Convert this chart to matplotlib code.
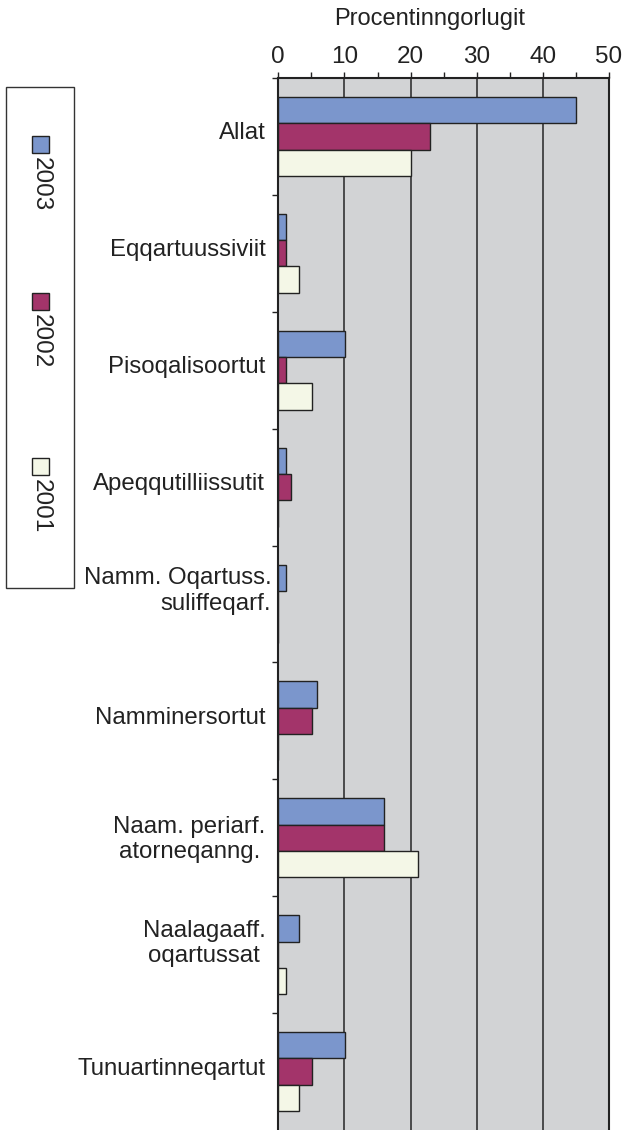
import matplotlib
matplotlib.use('Agg')
import matplotlib.pyplot as plt
from matplotlib.patches import Rectangle
from matplotlib.transforms import blended_transform_factory, offset_copy

plt.rcParams['font.family'] = ['Liberation Sans', 'DejaVu Sans']

# ---------------- data ----------------
categories = [
    "Allat",
    "Eqqartuussiviit",
    "Pisoqalisoortut",
    "Apeqqutilliissutit",
    "Namm. Oqartuss.\nsuliffeqarf.",
    "Namminersortut",
    "Naam. periarf.\natorneqanng.",
    "Naalagaaff.\noqartussat",
    "Tunuartinneqartut",
]
series_names = ["2003", "2002", "2001"]
v2003 = [45.0, 1.2, 10.1, 1.2, 1.2, 5.9, 16.0, 3.2, 10.1]
v2002 = [23.0, 1.1, 1.1, 1.9, 0.0, 5.1, 16.0, 0.0, 5.1]
v2001 = [20.0, 3.2, 5.1, 0.0, 0.0, 0.0, 21.1, 1.2, 3.2]
series_colors = ["#7B96CC", "#A3346A", "#F4F7E7"]
x_ticks = [0, 10, 20, 30, 40, 50]
x_minor = [5, 15, 25, 35, 45]
x_label = "Procentinngorlugit"

# ---------------- figure ----------------
W, H = 622, 1130
fig = plt.figure(figsize=(W / 100, H / 100), dpi=100)
ax = fig.add_axes([278.3 / W, 0.0, (609 - 278.3) / W, (H - 78) / H])
ax.set_facecolor("#D2D3D5")

n = len(categories)
bh = 0.225
for k, (vals, col) in enumerate(zip([v2003, v2002, v2001], series_colors)):
    ys = [i + (k - 1) * bh for i in range(n)]
    ax.barh(ys, vals, height=bh, color=col, edgecolor="#222222",
            linewidth=1.0, zorder=3)

ax.set_xlim(0, 50)
ax.set_ylim(n - 0.5, -0.5)

ax.xaxis.tick_top()
ax.xaxis.set_label_position("top")
ax.set_xticks(x_ticks)
ax.set_xticks(x_minor, minor=True)
ax.tick_params(axis="x", which="both", direction="out", length=4.5, width=1,
               color="#222222", labelsize=17.5, labelcolor="#222222", pad=2.5)
ax.set_xlabel(x_label, fontsize=17, color="#222222")
ax.xaxis.set_label_coords(0.458, 1.0456)
ax.xaxis.label.set_va("bottom")
ax.grid(axis="x", which="major", color="#333333", linewidth=1.2, zorder=1)
ax.set_axisbelow(True)

ax.set_yticks([i - 0.5 for i in range(n)])
ax.set_yticklabels([])
ax.tick_params(axis="y", direction="out", length=4.5, width=1, color="#222222")

for s in ["top", "left", "right"]:
    ax.spines[s].set_color("#222222")
    ax.spines[s].set_linewidth(1.5)
ax.spines["bottom"].set_visible(False)

# category labels
trans = blended_transform_factory(ax.transAxes, ax.transData)
extra = {4: (6, 13, "right"), 6: (0, -2, "center"), 7: (0, 11, "center")}
for i, lab in enumerate(categories):
    dx, dy, ma = extra.get(i, (0, 3, "center"))
    tr = offset_copy(trans, fig=fig, x=-13 + dx, y=dy, units="dots")
    ax.text(0, i, lab, transform=tr, ha="right", va="center", fontsize=17.3,
            color="#222222", multialignment=ma, linespacing=1.2)

# legend (vertical, rotated text)
fig.add_artist(Rectangle((6 / W, 1 - 588 / H), 68 / W, 501 / H,
                         transform=fig.transFigure, fill=False,
                         edgecolor="#333333", linewidth=1.0))
tops = [136, 293, 458]
for name, col, top in zip(series_names, series_colors, tops):
    fig.add_artist(Rectangle((32 / W, 1 - (top + 17) / H), 17 / W, 17 / H,
                             transform=fig.transFigure, facecolor=col,
                             edgecolor="#222222", linewidth=1.0))
    fig.text(41 / W, 1 - (top + 21) / H, name, rotation=-90, ha="center",
             va="top", fontsize=17.5, color="#222222")

fig.savefig("out.png", dpi=100)
